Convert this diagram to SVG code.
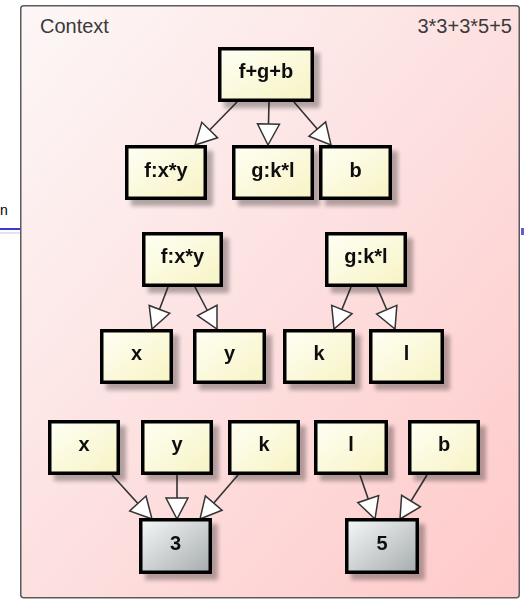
<svg xmlns="http://www.w3.org/2000/svg" width="524" height="601" viewBox="0 0 524 601">
<defs>
<linearGradient id="bg" x1="0" y1="0" x2="1" y2="1">
<stop offset="0" stop-color="#fdf7f7"/>
<stop offset="0.5" stop-color="#fde0e0"/>
<stop offset="1" stop-color="#ffc9c9"/>
</linearGradient>
<linearGradient id="yel" x1="0" y1="0" x2="1" y2="1">
<stop offset="0" stop-color="#fffff4"/>
<stop offset="1" stop-color="#f7f3c4"/>
</linearGradient>
<linearGradient id="gry" x1="0" y1="0" x2="1" y2="1">
<stop offset="0" stop-color="#f6f8f8"/>
<stop offset="1" stop-color="#a6acae"/>
</linearGradient>
<filter id="sh" x="-20%" y="-20%" width="150%" height="150%">
<feGaussianBlur in="SourceAlpha" stdDeviation="2"/>
<feOffset dx="6" dy="6" result="o"/>
<feComponentTransfer><feFuncA type="linear" slope="0.3"/></feComponentTransfer>
<feMerge><feMergeNode/><feMergeNode in="SourceGraphic"/></feMerge>
</filter>
<marker id="tri" markerUnits="userSpaceOnUse" markerWidth="26" markerHeight="26" viewBox="-2 -2 26 26" refX="21" refY="11" orient="auto">
<path d="M0,0 L21,11 L0,22 Z" fill="#ffffff" stroke="#333333" stroke-width="1.5" stroke-linejoin="miter"/>
</marker>
<style>
.box rect{stroke:#000;stroke-width:3.5}
.y rect{fill:url(#yel)}
.g rect{fill:url(#gry)}
.box text{font-family:"Liberation Sans",Arial,sans-serif;font-weight:bold;font-size:20px;fill:#111;text-anchor:middle}
.lbl{font-family:"Liberation Sans",Arial,sans-serif;font-size:20px;fill:#3a3a3a}
#edges line{stroke:#333;stroke-width:1.6;marker-end:url(#tri)}
</style>
</defs>
<rect x="0" y="0" width="524" height="601" fill="#ffffff"/>
<g id="outside">
<text x="0" y="215" font-family="Liberation Sans, Arial, sans-serif" font-size="14" fill="#000">n</text>
<line x1="0" y1="229" x2="20" y2="229" stroke="#3a3ad8" stroke-width="2"/>
<line x1="0" y1="233" x2="30" y2="233" stroke="#d8d8e0" stroke-width="1.5"/>
<rect x="521" y="228" width="3" height="7" fill="#6a5ad0"/>
</g>
<g id="context">
<rect x="20.75" y="5.75" width="498.5" height="592" rx="3" fill="url(#bg)" stroke="#5a5a5a" stroke-width="1.5"/>
<text class="lbl" x="40" y="33">Context</text>
<text class="lbl" x="512" y="33" text-anchor="end">3*3+3*5+5</text>
</g>
<g id="edges">
<line x1="237" y1="102" x2="195" y2="145"/>
<line x1="269" y1="102" x2="268" y2="145"/>
<line x1="294" y1="102" x2="331" y2="145"/>
<line x1="168" y1="287" x2="152" y2="329"/>
<line x1="195" y1="287" x2="217" y2="329"/>
<line x1="351" y1="287" x2="334" y2="329"/>
<line x1="377" y1="287" x2="395" y2="329"/>
<line x1="112" y1="475" x2="152" y2="519"/>
<line x1="177" y1="475" x2="177" y2="519"/>
<line x1="238" y1="475" x2="200" y2="519"/>
<line x1="360" y1="475" x2="375" y2="519"/>
<line x1="427" y1="475" x2="400" y2="519"/>
</g>
<g id="n_fgb" class="box y" filter="url(#sh)"><rect x="219.75" y="48.75" width="92.5" height="51.5"/><text x="266" y="78">f+g+b</text></g>
<g id="n_f1" class="box y" filter="url(#sh)"><rect x="126.75" y="146.75" width="78.5" height="51.5"/><text x="166" y="177">f:x*y</text></g>
<g id="n_g1" class="box y" filter="url(#sh)"><rect x="233.75" y="146.75" width="78.5" height="51.5"/><text x="273" y="177">g:k*l</text></g>
<g id="n_b1" class="box y" filter="url(#sh)"><rect x="320.75" y="146.75" width="69.5" height="51.5"/><text x="355.5" y="177">b</text></g>
<g id="n_f2" class="box y" filter="url(#sh)"><rect x="143.75" y="233.75" width="77.5" height="51.5"/><text x="182.5" y="263">f:x*y</text></g>
<g id="n_g2" class="box y" filter="url(#sh)"><rect x="326.75" y="233.75" width="78.5" height="51.5"/><text x="366" y="263">g:k*l</text></g>
<g id="n_x2" class="box y" filter="url(#sh)"><rect x="101.75" y="330.75" width="69.5" height="51.5"/><text x="136.5" y="360">x</text></g>
<g id="n_y2" class="box y" filter="url(#sh)"><rect x="194.75" y="330.75" width="69.5" height="51.5"/><text x="229.5" y="360">y</text></g>
<g id="n_k2" class="box y" filter="url(#sh)"><rect x="284.75" y="330.75" width="68.5" height="51.5"/><text x="319" y="360">k</text></g>
<g id="n_l2" class="box y" filter="url(#sh)"><rect x="370.75" y="330.75" width="71.5" height="51.5"/><text x="406.5" y="360">l</text></g>
<g id="n_x3" class="box y" filter="url(#sh)"><rect x="49.75" y="421.75" width="68.5" height="51.5"/><text x="84" y="451">x</text></g>
<g id="n_y3" class="box y" filter="url(#sh)"><rect x="142.75" y="421.75" width="68.5" height="51.5"/><text x="177" y="451">y</text></g>
<g id="n_k3" class="box y" filter="url(#sh)"><rect x="229.75" y="421.75" width="68.5" height="51.5"/><text x="264" y="451">k</text></g>
<g id="n_l3" class="box y" filter="url(#sh)"><rect x="315.75" y="421.75" width="70.5" height="51.5"/><text x="351" y="451">l</text></g>
<g id="n_b3" class="box y" filter="url(#sh)"><rect x="409.75" y="421.75" width="68.5" height="51.5"/><text x="444" y="451">b</text></g>
<g id="n_3" class="box g" filter="url(#sh)"><rect x="140.75" y="519.75" width="69.5" height="52.5"/><text x="175.5" y="550">3</text></g>
<g id="n_5" class="box g" filter="url(#sh)"><rect x="346.75" y="519.75" width="70.5" height="52.5"/><text x="382" y="550">5</text></g>
</svg>
